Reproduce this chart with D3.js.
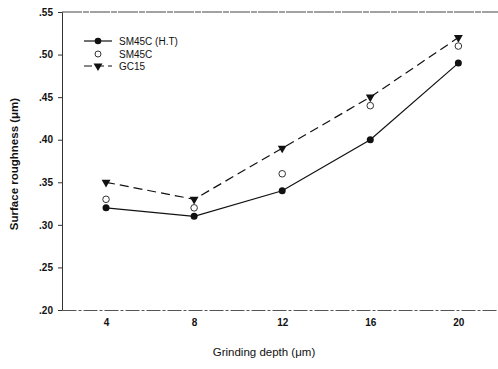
<!DOCTYPE html>
<html><head><meta charset="utf-8">
<script src="https://cdn.jsdelivr.net/npm/d3@7"></script>
<style>body{margin:0;background:#fff}svg{display:block}text{font-family:"Liberation Sans",Arial,sans-serif;fill:#111}</style>
</head><body><svg id="c" width="498" height="369"></svg>
<script>
const depths = [4, 8, 12, 16, 20];
const sm45cHT = [0.32, 0.31, 0.34, 0.40, 0.49];
const sm45c = [0.33, 0.32, 0.36, 0.44, 0.51];
const gc15 = [0.35, 0.33, 0.39, 0.45, 0.52];
const yTicks = [0.20, 0.25, 0.30, 0.35, 0.40, 0.45, 0.50, 0.55];
const seriesNames = ["SM45C (H.T)", "SM45C", "GC15"];

const svg = d3.select("#c");
const x = d3.scaleLinear().domain([2, 21.8]).range([62, 498]);
const y = d3.scaleLinear().domain([0.20, 0.55]).range([310, 12]);
const fmt = v => d3.format(".2f")(v).replace(/^0/, "");

const yAx = svg.append("g").attr("transform","translate(62,0)")
  .call(d3.axisLeft(y).tickValues(yTicks).tickFormat(fmt).tickSize(4).tickPadding(5));
yAx.select(".domain").attr("stroke","#333").attr("stroke-width",1);
yAx.selectAll(".tick line").attr("stroke","#333");
yAx.selectAll("text").style("font-size","10px").style("font-weight","bold").attr("fill","#222");

const xAx = svg.append("g").attr("transform","translate(0,310)")
  .call(d3.axisBottom(x).tickValues(depths).tickSize(0).tickPadding(9));
xAx.select(".domain").attr("stroke","#555").attr("stroke-width",1).attr("stroke-dasharray","14,2,3,2");
xAx.selectAll("text").style("font-size","10px").style("font-weight","bold").attr("fill","#222");

svg.append("line").attr("x1",62).attr("x2",498).attr("y1",12).attr("y2",12)
  .attr("stroke","#444").attr("stroke-width",1).attr("stroke-dasharray","20,1,6,1");

svg.append("text").attr("x",264).attr("y",356).attr("text-anchor","middle")
  .style("font-size","11.5px").text("Grinding depth (\u03bcm)");
svg.append("text").attr("transform","translate(18,164) rotate(-90)").attr("text-anchor","middle")
  .style("font-size","11.5px").style("font-weight","bold").text("Surface roughness (\u03bcm)");

const pts = v => depths.map((d,i)=>[x(d), y(v[i])]);
const line = d3.line();

svg.append("path").attr("d", line(pts(gc15))).attr("fill","none")
  .attr("stroke","#111").attr("stroke-width",1.2).attr("stroke-dasharray","9,5");
svg.append("path").attr("d", line(pts(sm45cHT))).attr("fill","none")
  .attr("stroke","#111").attr("stroke-width",1.2);

const tri = d3.symbol().type(d3.symbolTriangle).size(34);
svg.selectAll(".gc").data(pts(gc15)).enter().append("path")
  .attr("d", tri).attr("transform", p=>`translate(${p[0]},${p[1]}) rotate(180)`).attr("fill","#111");
svg.selectAll(".ht").data(pts(sm45cHT)).enter().append("circle")
  .attr("cx",p=>p[0]).attr("cy",p=>p[1]).attr("r",3.5).attr("fill","#111");
svg.selectAll(".sm").data(pts(sm45c)).enter().append("circle")
  .attr("cx",p=>p[0]).attr("cy",p=>p[1]).attr("r",3.3).attr("fill","#fff").attr("stroke","#333").attr("stroke-width",1);

const lg = svg.append("g");
const rows = [41, 54, 66];
seriesNames.forEach((n,i)=>{
  const yy = rows[i];
  if (i===0) {
    lg.append("line").attr("x1",84).attr("x2",112).attr("y1",yy).attr("y2",yy).attr("stroke","#111").attr("stroke-width",1.2);
    lg.append("circle").attr("cx",98).attr("cy",yy).attr("r",3.3).attr("fill","#111");
  } else if (i===1) {
    lg.append("circle").attr("cx",98).attr("cy",yy).attr("r",3).attr("fill","#fff").attr("stroke","#333");
  } else {
    lg.append("line").attr("x1",84).attr("x2",112).attr("y1",yy).attr("y2",yy).attr("stroke","#111").attr("stroke-width",1.2).attr("stroke-dasharray","8,4");
    lg.append("path").attr("d",tri).attr("transform",`translate(98,${yy}) rotate(180)`).attr("fill","#111");
  }
  lg.append("text").attr("x",119).attr("y",yy+3.5).style("font-size","10px").text(n);
});
</script></body></html>
